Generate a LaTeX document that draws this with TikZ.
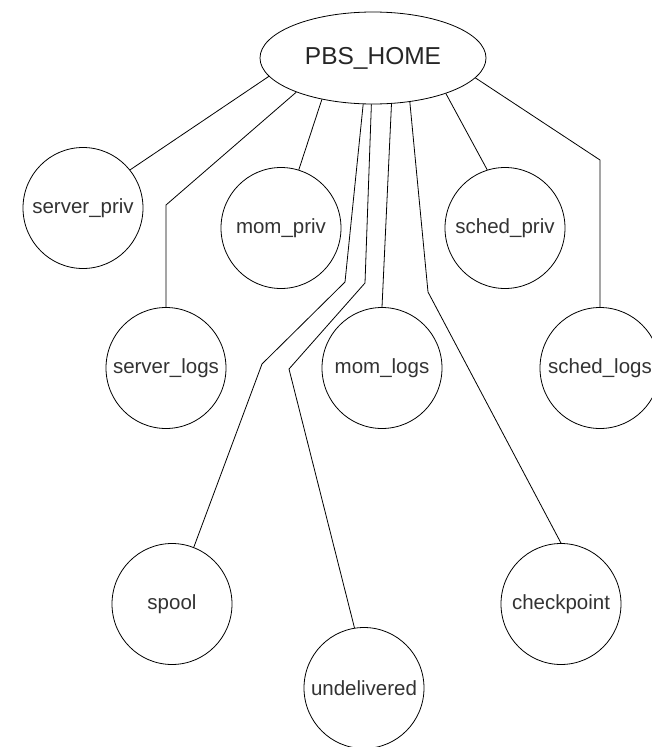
\documentclass[tikz,border=0pt]{standalone}
\usepackage{fontspec}
\setmainfont{Liberation Sans}
\usetikzlibrary{shapes.geometric}
\newcommand\dirlabel[1]{\makebox[0pt][c]{#1}}
\begin{document}
\begin{tikzpicture}[x=1pt,y=-1pt,
  dirnode/.style={draw, ellipse, inner sep=0pt, minimum width=120pt, minimum height=121pt,
    line width=0.8pt, text=black!80, font=\fontsize{20.5}{24}\selectfont},
  rootnode/.style={draw, ellipse, inner sep=0pt, minimum width=226pt, minimum height=92pt,
    line width=0.8pt, text=black!85, font=\fontsize{24.5}{28}\selectfont},
  link/.style={line width=0.8pt, line join=round}]
\useasboundingbox (0,0) rectangle (651,747);

% nodes
\node[rootnode] (home) at (373,58) {\dirlabel{PBS\_HOME}};
\node[dirnode] (spriv) at (83,208) {\dirlabel{server\_priv}};
\node[dirnode] (mpriv) at (281,228) {\dirlabel{mom\_priv}};
\node[dirnode] (schpriv) at (505,228) {\dirlabel{sched\_priv}};
\node[dirnode] (slogs) at (166,368) {\dirlabel{server\_logs}};
\node[dirnode] (mlogs) at (382,368) {\dirlabel{mom\_logs}};
\node[dirnode] (schlogs) at (600,368) {\dirlabel{sched\_logs}};
\node[dirnode] (spool) at (172,604) {\dirlabel{spool}};
\node[dirnode] (ckpt) at (561,604) {\dirlabel{checkpoint}};
\node[dirnode] (undel) at (364,688) {\dirlabel{undelivered}};

% bend points
\coordinate (bsl) at (166,205);
\coordinate (bsp1) at (345,282);
\coordinate (bsp2) at (262,364);
\coordinate (bun1) at (365,283);
\coordinate (bun2) at (289,369);
\coordinate (bck) at (428,292);
\coordinate (bschl) at (600,160);

% connectors
\draw[link] (home.190.7) -- (spriv.39.4);
\draw[link] (home.204.1) -- (bsl) -- (slogs.north);
\draw[link] (home.219.7) -- (mpriv.73.3);
\draw[link] (home.258.9) -- (bsp1) -- (bsp2) -- (spool.69.5);
\draw[link] (home.268.8) -- (bun1) -- (bun2) -- (undel.99.8);
\draw[link] (home.292.4) -- (mlogs.north);
\draw[link] (home.310.3) -- (bck) -- (ckpt.north);
\draw[link] (home.334.7) -- (schpriv.107.6);
\draw[link] (home.349.3) -- (bschl) -- (schlogs.north);
\end{tikzpicture}
\end{document}
